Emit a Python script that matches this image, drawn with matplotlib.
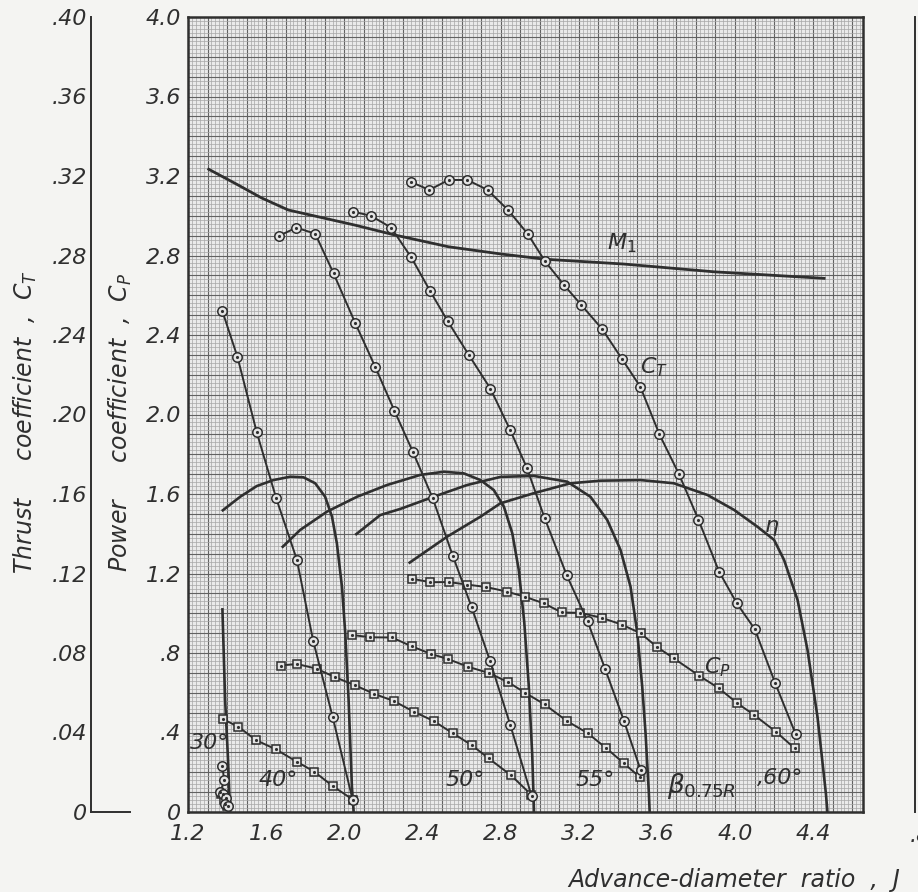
import matplotlib
matplotlib.use("Agg")
import matplotlib.pyplot as plt
from matplotlib.ticker import MultipleLocator, FuncFormatter
from matplotlib.lines import Line2D

plt.rcParams["mathtext.fontset"] = "dejavusans"
plt.rcParams["font.family"] = "DejaVu Sans"

INK = "#2f2f2f"
PAPER = "#f4f4f2"

# --- thrust coefficient (circles), C_T units -------------------------------
j_ct_30 = [1.376, 1.385, 1.366, 1.380, 1.393, 1.388, 1.405]
ct_30 = [0.023, 0.016, 0.010, 0.009, 0.007, 0.004, 0.003]

j_ct_40 = [1.376, 1.453, 1.552, 1.651, 1.757, 1.841, 1.940, 2.043]
ct_40 = [0.252, 0.229, 0.191, 0.158, 0.127, 0.086, 0.048, 0.006]

j_ct_50 = [1.668, 1.754, 1.851, 1.945, 2.056, 2.158, 2.256, 2.352, 2.452,
           2.555, 2.652, 2.746, 2.849, 2.959]
ct_50 = [0.290, 0.294, 0.291, 0.271, 0.246, 0.224, 0.202, 0.181, 0.158,
         0.129, 0.103, 0.076, 0.044, 0.008]

j_ct_55 = [2.047, 2.136, 2.240, 2.343, 2.440, 2.529, 2.637, 2.748, 2.850,
           2.935, 3.025, 3.139, 3.245, 3.335, 3.431, 3.517]
ct_55 = [0.302, 0.300, 0.294, 0.279, 0.262, 0.247, 0.230, 0.213, 0.192,
         0.173, 0.148, 0.119, 0.096, 0.072, 0.046, 0.021]

j_ct_60 = [2.341, 2.435, 2.534, 2.630, 2.733, 2.837, 2.938, 3.028, 3.126,
           3.214, 3.320, 3.421, 3.515, 3.613, 3.713, 3.813, 3.918, 4.009,
           4.101, 4.205, 4.311]
ct_60 = [0.317, 0.313, 0.318, 0.318, 0.313, 0.303, 0.291, 0.277, 0.265,
         0.255, 0.243, 0.228, 0.214, 0.190, 0.170, 0.147, 0.121, 0.105,
         0.092, 0.065, 0.039]

# --- power coefficient (squares) -------------------------------------------
j_cp_30 = [1.368, 1.385, 1.398]
cp_30 = [0.090, 0.060, 0.030]

j_cp_40 = [1.381, 1.458, 1.547, 1.650, 1.757, 1.846, 1.940, 2.047]
cp_40 = [0.466, 0.429, 0.362, 0.315, 0.253, 0.203, 0.131, 0.060]

j_cp_50 = [1.674, 1.757, 1.858, 1.951, 2.056, 2.152, 2.254, 2.355, 2.457,
           2.556, 2.654, 2.739, 2.854, 2.958]
cp_50 = [0.737, 0.745, 0.721, 0.679, 0.637, 0.595, 0.558, 0.505, 0.458,
         0.396, 0.335, 0.270, 0.184, 0.086]

j_cp_55 = [2.039, 2.133, 2.244, 2.344, 2.442, 2.532, 2.633, 2.741, 2.839,
           2.927, 3.026, 3.139, 3.245, 3.340, 3.431, 3.512]
cp_55 = [0.891, 0.879, 0.878, 0.834, 0.796, 0.769, 0.731, 0.699, 0.653,
         0.599, 0.541, 0.458, 0.397, 0.322, 0.245, 0.176]

j_cp_60 = [2.346, 2.440, 2.534, 2.630, 2.726, 2.832, 2.927, 3.021, 3.113,
           3.208, 3.318, 3.420, 3.517, 3.602, 3.687, 3.816, 3.918, 4.012,
           4.098, 4.209, 4.306]
cp_60 = [1.174, 1.156, 1.157, 1.144, 1.132, 1.109, 1.082, 1.050, 1.004,
         1.002, 0.977, 0.943, 0.899, 0.829, 0.773, 0.686, 0.622, 0.547,
         0.488, 0.404, 0.320]

# --- efficiency curves (plotted on the left scale) --------------------------
j_eta_30 = [1.376, 1.390, 1.405, 1.415]
eta_30 = [1.026, 0.564, 0.262, 0.0]

j_eta_40 = [1.373, 1.467, 1.552, 1.637, 1.723, 1.791, 1.851, 1.902, 1.937,
            1.962, 1.988, 2.005, 2.022, 2.039, 2.048]
eta_40 = [1.514, 1.586, 1.640, 1.670, 1.687, 1.684, 1.654, 1.586, 1.486,
          1.352, 1.134, 0.899, 0.564, 0.127, 0.0]

j_eta_50 = [1.680, 1.774, 1.911, 2.065, 2.218, 2.389, 2.509, 2.611, 2.697,
            2.765, 2.817, 2.860, 2.893, 2.921, 2.944, 2.962, 2.971]
eta_50 = [1.330, 1.419, 1.511, 1.586, 1.645, 1.696, 1.712, 1.704, 1.670,
          1.620, 1.536, 1.402, 1.218, 0.957, 0.639, 0.287, 0.0]

j_eta_55 = [2.056, 2.184, 2.287, 2.457, 2.628, 2.799, 2.970, 3.141, 3.260,
            3.346, 3.414, 3.465, 3.500, 3.525, 3.542, 3.559, 3.563]
eta_55 = [1.394, 1.494, 1.525, 1.586, 1.645, 1.686, 1.691, 1.662, 1.586,
          1.469, 1.318, 1.134, 0.899, 0.630, 0.396, 0.094, 0.0]

j_eta_60 = [2.329, 2.526, 2.697, 2.799, 2.970, 3.158, 3.312, 3.517, 3.687,
            3.859, 3.995, 4.115, 4.200, 4.251, 4.320, 4.371, 4.422, 4.465,
            4.473]
eta_60 = [1.251, 1.385, 1.486, 1.553, 1.604, 1.654, 1.667, 1.670, 1.654,
          1.595, 1.520, 1.435, 1.369, 1.268, 1.067, 0.815, 0.479, 0.094, 0.0]

# --- tip Mach number curve ---------------------------------------------------
j_m1 = [1.306, 1.456, 1.576, 1.713, 2.054, 2.259, 2.533, 2.799, 3.030,
        3.431, 3.892, 4.456]
m1 = [3.234, 3.155, 3.090, 3.029, 2.953, 2.903, 2.844, 2.808, 2.781,
      2.757, 2.718, 2.685]

# --- ticks -------------------------------------------------------------------
j_ticks = [1.2, 1.6, 2.0, 2.4, 2.8, 3.2, 3.6, 4.0, 4.4]
j_ticklabels = ["1.2", "1.6", "2.0", "2.4", "2.8", "3.2", "3.6", "4.0", "4.4"]
cp_ticks = [0, 0.4, 0.8, 1.2, 1.6, 2.0, 2.4, 2.8, 3.2, 3.6, 4.0]
cp_ticklabels = ["0", ".4", ".8", "1.2", "1.6", "2.0", "2.4", "2.8", "3.2",
                 "3.6", "4.0"]
ct_ticks = [0, 0.04, 0.08, 0.12, 0.16, 0.20, 0.24, 0.28, 0.32, 0.36, 0.40]
ct_ticklabels = ["0", ".04", ".08", ".12", ".16", ".20", ".24", ".28", ".32",
                 ".36", ".40"]


def label_only(ticks, labels):
    def fmt(v, pos):
        for t, s in zip(ticks, labels):
            if abs(v - t) < 1e-6:
                return s
        return ""
    return FuncFormatter(fmt)


fig = plt.figure(figsize=(9.18, 8.92), dpi=100, facecolor=PAPER)
ax = fig.add_axes([188 / 918, 80 / 892, 675 / 918, 795 / 892])
ax.set_facecolor("#eaeaea")
ax.set_xlim(1.2, 4.655)
ax.set_ylim(0, 4.0)

# graph paper
ax.xaxis.set_major_locator(MultipleLocator(0.1))
ax.yaxis.set_major_locator(MultipleLocator(0.1))
ax.xaxis.set_minor_locator(MultipleLocator(0.02))
ax.yaxis.set_minor_locator(MultipleLocator(0.02))
ax.xaxis.set_major_formatter(label_only(j_ticks, j_ticklabels))
ax.yaxis.set_major_formatter(label_only(cp_ticks, cp_ticklabels))
ax.grid(which="minor", color="#a6a6a6", lw=0.5)
ax.grid(which="major", color="#626262", lw=0.8)
ax.set_axisbelow(True)
ax.tick_params(which="both", length=0)
ax.tick_params(axis="x", pad=9)
ax.tick_params(axis="y", pad=5)
for lab in ax.get_xticklabels() + ax.get_yticklabels():
    lab.set_fontsize(16)
    lab.set_fontstyle("italic")
    lab.set_color(INK)
for sp in ax.spines.values():
    sp.set_color(INK)
    sp.set_linewidth(1.8)

# thrust coefficient scale on its own spine
ax_ct = ax.twinx()
ax_ct.set_ylim(0, 0.4)
ax_ct.set_xlim(ax.get_xlim())
ax_ct.yaxis.set_ticks_position("left")
ax_ct.spines["left"].set_position(("axes", -0.1437))
ax_ct.spines["left"].set_color(INK)
ax_ct.spines["left"].set_linewidth(1.4)
for side in ("right", "top", "bottom"):
    ax_ct.spines[side].set_visible(False)
ax_ct.set_yticks(ct_ticks)
ax_ct.set_yticklabels(ct_ticklabels, fontsize=16, fontstyle="italic", color=INK)
ax_ct.tick_params(axis="y", length=0, pad=3)
ax_ct.plot([-0.1437, -0.086], [0, 0], color=INK, lw=1.4, clip_on=False,
           transform=ax_ct.get_yaxis_transform())

face = "#e4e4e4"

# efficiency and Mach lines
for j, v in [(j_eta_30, eta_30), (j_eta_40, eta_40), (j_eta_50, eta_50),
             (j_eta_55, eta_55), (j_eta_60, eta_60)]:
    ax.plot(j, v, color=INK, lw=1.9, solid_capstyle="butt", zorder=3)
ax.plot(j_m1, m1, color=INK, lw=2.0, zorder=3)

# power coefficient squares
for j, v in [(j_cp_30, cp_30), (j_cp_40, cp_40), (j_cp_50, cp_50),
             (j_cp_55, cp_55), (j_cp_60, cp_60)]:
    ax.plot(j, v, color=INK, lw=1.4, marker="s", ms=6, mfc=face, mec=INK,
            mew=1.1, zorder=4)
    ax.plot(j, v, ls="none", marker=".", ms=2.5, color=INK, zorder=5)

# thrust coefficient circles
for j, v in [(j_ct_30, ct_30), (j_ct_40, ct_40), (j_ct_50, ct_50),
             (j_ct_55, ct_55), (j_ct_60, ct_60)]:
    ax_ct.plot(j, v, color=INK, lw=1.4, marker="o", ms=6.8, mfc=face,
               mec=INK, mew=1.1, zorder=4)
    ax_ct.plot(j, v, ls="none", marker=".", ms=2.5, color=INK, zorder=5)

# curve annotations
tkw = dict(color=INK, fontsize=16, fontstyle="italic", ha="center",
           va="center", zorder=6)
ax.text(3.42, 2.86, r"$M_1$", **tkw)
ax.text(3.585, 2.24, r"$C_T$", **tkw)
ax.text(4.19, 1.43, r"$\eta$", **tkw)
ax.text(3.91, 0.73, r"$C_P$", **tkw)
ax.text(1.313, 0.345, "30°", **tkw)
ax.text(1.661, 0.161, "40°", **tkw)
ax.text(2.62, 0.161, "50°", **tkw)
ax.text(3.286, 0.161, "55°", **tkw)
ax.text(3.83, 0.13, r"$\beta_{0.75R}$", color=INK, fontsize=19,
        ha="center", va="center", zorder=6)
ax.text(4.23, 0.171, ",60°", **tkw)

# axis titles
fig.text(25 / 918, 0.527, r"Thrust     coefficient  ,  $C_T$", rotation=90,
         ha="center", va="center", fontsize=17, fontstyle="italic", color=INK)
fig.text(120 / 918, 0.527, r"Power     coefficient  ,  $C_P$", rotation=90,
         ha="center", va="center", fontsize=17, fontstyle="italic", color=INK)
fig.text(568 / 918, 1 - 880 / 892, "Advance-diameter  ratio  ,  J",
         ha="left", va="center", fontsize=17, fontstyle="italic", color=INK)

# edge of the neighbouring figure
fig.add_artist(Line2D([915 / 918, 915 / 918], [80 / 892, 875 / 892],
                      color=INK, lw=1.4))
fig.text(910 / 918, 1 - 836 / 892, ".8", ha="left", va="center",
         fontsize=16, fontstyle="italic", color=INK)

fig.savefig("out.png", dpi=100, facecolor=PAPER)
